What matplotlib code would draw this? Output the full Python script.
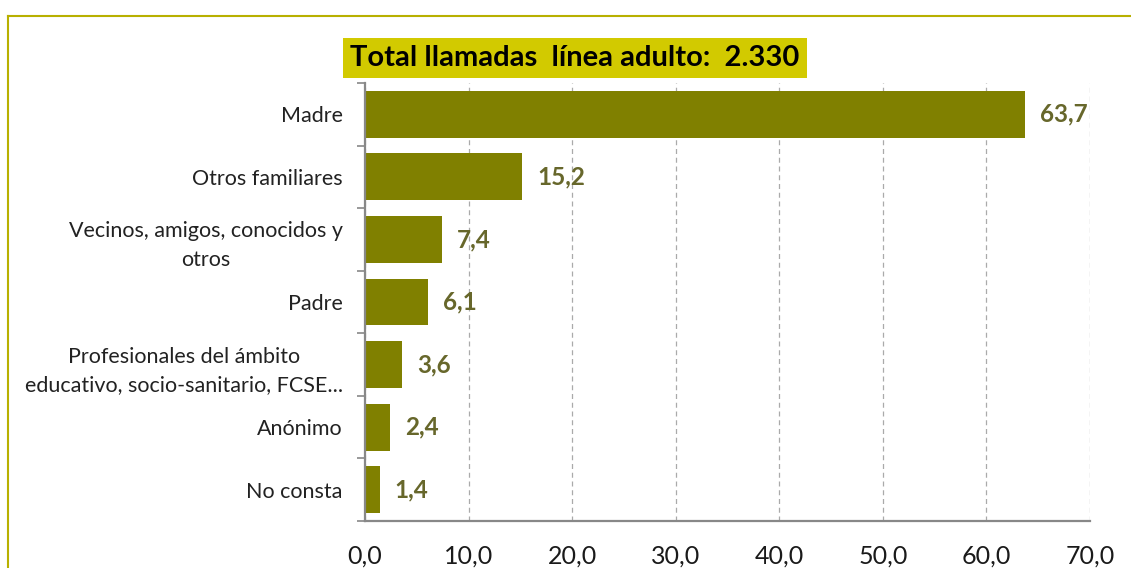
import matplotlib
matplotlib.use("Agg")
import matplotlib.pyplot as plt
from matplotlib.lines import Line2D
from matplotlib.ticker import FixedLocator, NullFormatter

categories = ["Madre", "Otros familiares", "Vecinos, amigos, conocidos y\notros", "Padre",
              "Profesionales del ámbito\neducativo, socio-sanitario, FCSE...", "Anónimo", "No consta"]
values = [63.7, 15.2, 7.4, 6.1, 3.6, 2.4, 1.4]
value_labels = ["63,7", "15,2", "7,4", "6,1", "3,6", "2,4", "1,4"]
xticks = [0, 10, 20, 30, 40, 50, 60, 70]
xtick_labels = ["0,0", "10,0", "20,0", "30,0", "40,0", "50,0", "60,0", "70,0"]
title = "Total llamadas  línea adulto:  2.330"

plt.rcParams['font.family'] = ['Lato', 'DejaVu Sans']

W, H = 1131, 568
fig = plt.figure(figsize=(W/100, H/100), dpi=100)
ax = fig.add_axes([365/W, 1-521/H, (1090-365)/W, (521-83)/H])

ypos = list(range(len(categories)))
ax.barh(ypos, values, height=0.75, color="#808000")
ax.set_ylim(len(categories)-0.5, -0.5)
ax.set_xlim(0, 70)

for y, v, lab in zip(ypos, values, value_labels):
    ax.annotate(lab, (v, y), xytext=(11, 0), textcoords="offset points",
                va="center", ha="left", fontsize=17.5, fontweight="bold", color="#67672B")

ax.set_yticks(ypos)
ax.set_yticklabels(categories, fontsize=15.5, color="#222222", linespacing=1.55)
for t in ax.get_yticklabels():
    t.set_multialignment("center")
ax.tick_params(axis="y", length=0, pad=16)
ax.yaxis.set_minor_locator(FixedLocator([i - 0.5 for i in range(len(categories)+1)]))
ax.yaxis.set_minor_formatter(NullFormatter())
ax.tick_params(axis="y", which="minor", length=6, color="#888888", width=1.2)

ax.set_xticks(xticks)
ax.set_xticklabels(xtick_labels, fontsize=18, color="#1a1a1a")
ax.tick_params(axis="x", length=0, pad=17)

ax.grid(axis="x", linestyle=(0, (4, 3)), color="#AAAAAA", linewidth=0.9)
ax.set_axisbelow(True)
for s in ["top", "right"]:
    ax.spines[s].set_visible(False)
for s in ["left", "bottom"]:
    ax.spines[s].set_color("#888888")
    ax.spines[s].set_linewidth(1.6)

# title box
fig.text(575/W, 1-58/H, title, ha="center", va="center", fontsize=21, fontweight="bold",
         color="black", bbox=dict(boxstyle="square,pad=0.25", facecolor="#D2CA00", edgecolor="none"))

# outer frame lines
fig.add_artist(Line2D([8/W, 1], [1-16/H, 1-16/H], color="#B8B000", linewidth=1.5))
fig.add_artist(Line2D([8/W, 8/W], [0, 1-16/H], color="#B8B000", linewidth=1.5))

fig.savefig("out.png", dpi=100, facecolor="white")
